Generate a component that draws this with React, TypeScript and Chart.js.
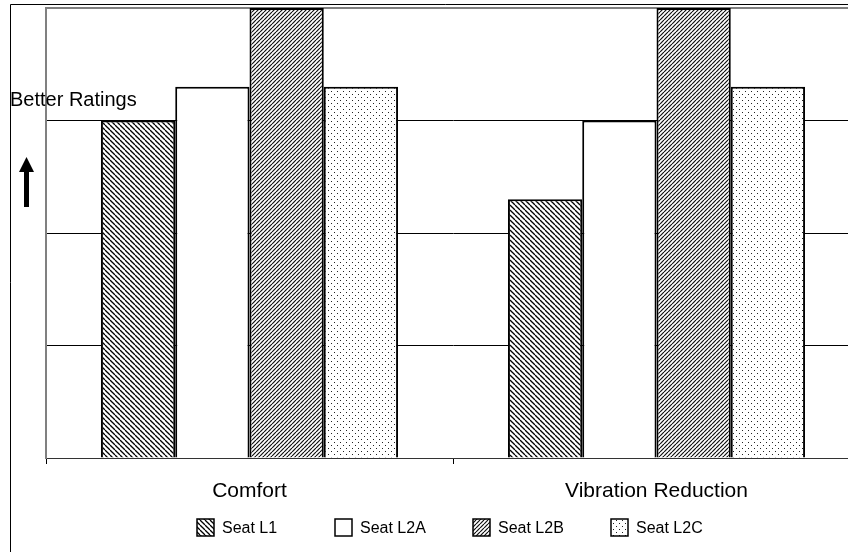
import React, { useEffect, useRef } from 'react';
import { Chart, registerables } from 'chart.js';

Chart.register(...registerables);

const categories = ['Comfort', 'Vibration Reduction'];
const seriesNames = ['Seat L1', 'Seat L2A', 'Seat L2B', 'Seat L2C'];
const seatL1 = [3, 2.3];
const seatL2A = [3.3, 3];
const seatL2B = [4, 4];
const seatL2C = [3.3, 3.3];
const yMin = 0;
const yMax = 4;
const yStep = 1;
const noteText = 'Better Ratings';

const FONT = "Arial, 'Liberation Sans', Helvetica, sans-serif";

function makePattern(kind: string): CanvasPattern | string {
  const c = document.createElement('canvas');
  let w = 5;
  let h = 5;
  if (kind === 'fwd') { w = 4; h = 4; }
  if (kind === 'dots') { w = 6; h = 6; }
  c.width = w;
  c.height = h;
  const g = c.getContext('2d');
  if (!g) return '#fff';
  g.fillStyle = '#fff';
  g.fillRect(0, 0, w, h);
  if (kind === 'back') {
    g.strokeStyle = '#000';
    g.lineWidth = 1.3;
    for (const k of [-w, 0, w]) {
      g.beginPath();
      g.moveTo(k, 0);
      g.lineTo(k + w, h);
      g.stroke();
    }
  } else if (kind === 'fwd') {
    g.strokeStyle = '#111';
    g.lineWidth = 1.2;
    for (const k of [-w, 0, w]) {
      g.beginPath();
      g.moveTo(k, h);
      g.lineTo(k + w, 0);
      g.stroke();
    }
  } else if (kind === 'dots') {
    g.fillStyle = '#222';
    g.fillRect(1, 1, 1, 1);
    g.fillRect(4, 4, 1, 1);
  }
  const p = g.createPattern(c, 'repeat');
  return p || '#fff';
}

const decorPlugin = {
  id: 'decor',
  beforeDraw(chart: any) {
    const ctx = chart.ctx;
    ctx.save();
    ctx.strokeStyle = '#000';
    ctx.lineWidth = 1;
    ctx.beginPath();
    ctx.moveTo(10.5, chart.height);
    ctx.lineTo(10.5, 4.5);
    ctx.lineTo(chart.width, 4.5);
    ctx.stroke();
    ctx.restore();
  },
  afterDraw(chart: any) {
    const ctx = chart.ctx;
    ctx.save();
    ctx.fillStyle = '#000';
    ctx.font = `20px ${FONT}`;
    ctx.textBaseline = 'alphabetic';
    ctx.textAlign = 'left';
    ctx.fillText(noteText, 10, 106);
    // arrow
    ctx.fillRect(24, 170, 5, 37);
    ctx.beginPath();
    ctx.moveTo(19, 172);
    ctx.lineTo(34, 172);
    ctx.lineTo(26.5, 157);
    ctx.closePath();
    ctx.fill();

    // legend (equal-width slots)
    const ds = chart.data.datasets;
    const box = 17;
    const gapText = 8;
    const slot = 138;
    const fontSize = 16;
    ctx.font = `${fontSize}px ${FONT}`;
    const yTop = 519;
    ds.forEach((d: any, i: number) => {
      const x = 197 + i * slot;
      ctx.fillStyle = d.backgroundColor;
      ctx.fillRect(x, yTop, box, box);
      ctx.strokeStyle = '#000';
      ctx.lineWidth = 1.5;
      ctx.strokeRect(x, yTop, box, box);
      ctx.fillStyle = '#000';
      ctx.textBaseline = 'middle';
      ctx.fillText(d.label, x + box + gapText, yTop + box / 2 + 1);
    });
    ctx.restore();
  },
};

export default function App() {
  const ref = useRef<HTMLCanvasElement | null>(null);

  useEffect(() => {
    const canvas = ref.current;
    if (!canvas) return;
    const fills = [makePattern('back'), '#ffffff', makePattern('fwd'), makePattern('dots')];
    const values = [seatL1, seatL2A, seatL2B, seatL2C];
    const chart = new Chart(canvas, {
      type: 'bar',
      data: {
        labels: categories,
        datasets: seriesNames.map((name, i) => ({
          label: name,
          data: values[i],
          backgroundColor: fills[i] as any,
          borderColor: '#000',
          borderWidth: 2,
          borderSkipped: 'start',
          barPercentage: 1,
          categoryPercentage: 0.73,
        })),
      },
      options: {
        animation: false,
        responsive: false,
        maintainAspectRatio: false,
        devicePixelRatio: 1,
        layout: { padding: { left: 20, top: 8, right: 20, bottom: 0 } },
        plugins: {
          legend: { display: false },
          tooltip: { enabled: false },
        },
        scales: {
          x: {
            type: 'category',
            afterFit: (s: any) => { s.height = 102; },
            grid: {
              display: true,
              drawOnChartArea: false,
              drawTicks: true,
              tickLength: 6,
              color: '#000',
              offset: true,
            },
            border: { display: true, color: '#333', width: 1 },
            ticks: {
              color: '#000',
              font: { family: FONT, size: 21 },
              padding: 15,
              maxRotation: 0,
            },
          },
          y: {
            min: yMin,
            max: yMax,
            afterFit: (s: any) => { s.width = 26; },
            ticks: { display: false, stepSize: yStep },
            grid: {
              drawTicks: false,
              color: (c: any) => (c.tick && c.tick.value === yMax ? '#808080' : '#000'),
              lineWidth: (c: any) => (c.tick && c.tick.value === yMax ? 2 : 1),
            },
            border: { display: true, color: '#808080', width: 2 },
          },
        },
      },
      plugins: [decorPlugin],
    } as any);
    return () => chart.destroy();
  }, []);

  return (
    <div style={{ position: 'fixed', left: 0, top: 0, width: 848, height: 552, overflow: 'hidden', background: '#fff' }}>
      <canvas ref={ref} width={880} height={560} style={{ display: 'block', width: 880, height: 560 }} />
    </div>
  );
}
